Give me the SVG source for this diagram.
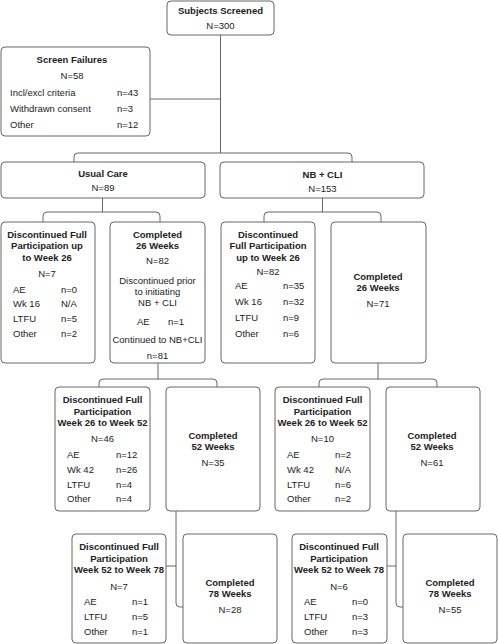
<svg xmlns="http://www.w3.org/2000/svg" width="498" height="644" viewBox="0 0 498 644">
<style>
.box{fill:#fff;stroke:#666;stroke-width:1}
.ln{fill:none;stroke:#666;stroke-width:1}
text{font-family:"Liberation Sans",Arial,sans-serif;font-size:9.5px;fill:#222}
.b{font-weight:bold;text-anchor:middle}
.c{text-anchor:middle}
</style>
<rect width="498" height="644" fill="#fff"/>
<g id="connectors">
<path class="ln" d="M220.5,35 V153 M150,99 H220.5"/>
<path class="ln" d="M74,162 V157 Q74,153 78,153 H348 Q352,153 352,157 V162"/>
<path class="ln" d="M102.5,198 V212 M43,222 V216 Q43,212 47,212 H156 Q160,212 160,216 V222"/>
<path class="ln" d="M322.5,198 V212 M264,222 V216 Q264,212 268,212 H377 Q381,212 381,216 V222"/>
<path class="ln" d="M158,363 V379 M99,387 V383 Q99,379 103,379 H213 Q217,379 217,383 V387"/>
<path class="ln" d="M378,363 V379 M319,387 V383 Q319,379 323,379 H433 Q437,379 437,383 V387"/>
<path class="ln" d="M176,511 V603 Q176,607 180,607 H183 M176,566 H166"/>
<path class="ln" d="M396,511 V603 Q396,607 400,607 H403 M396,566 H387"/>
</g>
<g id="screened">
<rect class="box" x="167" y="1" width="107" height="34" rx="4"/>
<text class="b" x="220.5" y="13.5">Subjects Screened</text>
<text class="c" x="220.5" y="28.5">N=300</text>
</g>
<g id="screen-failures">
<rect class="box" x="1" y="47" width="149" height="89" rx="4"/>
<text class="b" x="72" y="62.5">Screen Failures</text>
<text class="c" x="72" y="78.5">N=58</text>
<text x="10" y="95.5">Incl/excl criteria</text><text x="117" y="95.5">n=43</text>
<text x="10" y="111.5">Withdrawn consent</text><text x="117" y="111.5">n=3</text>
<text x="10" y="127.5">Other</text><text x="117" y="127.5">n=12</text>
</g>
<g id="usual-care">
<rect class="box" x="1" y="162" width="204" height="36" rx="4"/>
<text class="b" x="103" y="176.5">Usual Care</text>
<text class="c" x="103" y="190.5">N=89</text>
</g>
<g id="nb-cli">
<rect class="box" x="220" y="162" width="204" height="36" rx="4"/>
<text class="b" x="322.5" y="177.5">NB + CLI</text>
<text class="c" x="322.5" y="191.5">N=153</text>
</g>
<g id="uc-disc26">
<rect class="box" x="1" y="222" width="94" height="141" rx="4"/>
<text class="b" x="47" y="237.5">Discontinued Full</text>
<text class="b" x="47" y="249">Participation up</text>
<text class="b" x="47" y="260.5">to Week 26</text>
<text class="c" x="47" y="276.5">N=7</text>
<text x="13" y="292.5">AE</text><text x="61" y="292.5">n=0</text>
<text x="13" y="307">Wk 16</text><text x="61" y="307">N/A</text>
<text x="13" y="322">LTFU</text><text x="61" y="322">n=5</text>
<text x="13" y="337">Other</text><text x="61" y="337">n=2</text>
</g>
<g id="uc-comp26">
<rect class="box" x="110" y="222" width="95" height="141" rx="4"/>
<text class="b" x="157.5" y="237.5">Completed</text>
<text class="b" x="157.5" y="249">26 Weeks</text>
<text class="c" x="157.5" y="263.5">N=82</text>
<text class="c" x="157.5" y="283.5">Discontinued prior</text>
<text class="c" x="157.5" y="294.5">to initiating</text>
<text class="c" x="157.5" y="306">NB + CLI</text>
<text x="137" y="324.5">AE</text><text x="168" y="324.5">n=1</text>
<text class="c" x="157.5" y="342.5">Continued to NB+CLI</text>
<text class="c" x="157.5" y="358.5">n=81</text>
</g>
<g id="nb-disc26">
<rect class="box" x="221" y="222" width="94" height="141" rx="4"/>
<text class="b" x="268" y="237.5">Discontinued</text>
<text class="b" x="268" y="249">Full Participation</text>
<text class="b" x="268" y="260.5">up to Week 26</text>
<text class="c" x="268" y="275">N=82</text>
<text x="235" y="289">AE</text><text x="283" y="289">n=35</text>
<text x="235" y="305">Wk 16</text><text x="283" y="305">n=32</text>
<text x="235" y="321">LTFU</text><text x="283" y="321">n=9</text>
<text x="235" y="337">Other</text><text x="283" y="337">n=6</text>
</g>
<g id="nb-comp26">
<rect class="box" x="331" y="222" width="95" height="141" rx="4"/>
<text class="b" x="378" y="279.5">Completed</text>
<text class="b" x="378" y="291">26 Weeks</text>
<text class="c" x="378" y="307">N=71</text>
</g>
<g id="uc-disc52">
<rect class="box" x="55" y="387" width="95" height="124" rx="4"/>
<text class="b" x="102.5" y="403">Discontinued Full</text>
<text class="b" x="102.5" y="414.5">Participation</text>
<text class="b" x="102.5" y="426">Week 26 to Week 52</text>
<text class="c" x="102.5" y="442">N=46</text>
<text x="67" y="458">AE</text><text x="116" y="458">n=12</text>
<text x="67" y="472.5">Wk 42</text><text x="116" y="472.5">n=26</text>
<text x="67" y="487.5">LTFU</text><text x="116" y="487.5">n=4</text>
<text x="67" y="502">Other</text><text x="116" y="502">n=4</text>
</g>
<g id="uc-comp52">
<rect class="box" x="166" y="387" width="94" height="124" rx="4"/>
<text class="b" x="213" y="438.5">Completed</text>
<text class="b" x="213" y="450">52 Weeks</text>
<text class="c" x="213" y="466">N=35</text>
</g>
<g id="nb-disc52">
<rect class="box" x="275" y="387" width="95" height="124" rx="4"/>
<text class="b" x="322.5" y="403">Discontinued Full</text>
<text class="b" x="322.5" y="414.5">Participation</text>
<text class="b" x="322.5" y="426">Week 26 to Week 52</text>
<text class="c" x="322.5" y="442">N=10</text>
<text x="287" y="458">AE</text><text x="335" y="458">n=2</text>
<text x="287" y="472.5">Wk 42</text><text x="335" y="472.5">N/A</text>
<text x="287" y="487.5">LTFU</text><text x="335" y="487.5">n=6</text>
<text x="287" y="502">Other</text><text x="335" y="502">n=2</text>
</g>
<g id="nb-comp52">
<rect class="box" x="386" y="387" width="94" height="124" rx="4"/>
<text class="b" x="432" y="438.5">Completed</text>
<text class="b" x="432" y="450">52 Weeks</text>
<text class="c" x="432" y="466">N=61</text>
</g>
<g id="uc-disc78">
<rect class="box" x="72" y="534" width="94" height="109" rx="4"/>
<text class="b" x="119" y="550">Discontinued Full</text>
<text class="b" x="119" y="561.5">Participation</text>
<text class="b" x="119" y="573">Week 52 to Week 78</text>
<text class="c" x="119" y="589.5">N=7</text>
<text x="84" y="605">AE</text><text x="132" y="605">n=1</text>
<text x="84" y="619.5">LTFU</text><text x="132" y="619.5">n=5</text>
<text x="84" y="634.5">Other</text><text x="132" y="634.5">n=1</text>
</g>
<g id="uc-comp78">
<rect class="box" x="183" y="534" width="94" height="109" rx="4"/>
<text class="b" x="230" y="585.5">Completed</text>
<text class="b" x="230" y="597">78 Weeks</text>
<text class="c" x="230" y="613">N=28</text>
</g>
<g id="nb-disc78">
<rect class="box" x="292" y="534" width="95" height="109" rx="4"/>
<text class="b" x="339" y="550">Discontinued Full</text>
<text class="b" x="339" y="561.5">Participation</text>
<text class="b" x="339" y="573">Week 52 to Week 78</text>
<text class="c" x="339" y="589.5">N=6</text>
<text x="304" y="605">AE</text><text x="352" y="605">n=0</text>
<text x="304" y="619.5">LTFU</text><text x="352" y="619.5">n=3</text>
<text x="304" y="634.5">Other</text><text x="352" y="634.5">n=3</text>
</g>
<g id="nb-comp78">
<rect class="box" x="403" y="534" width="94" height="109" rx="4"/>
<text class="b" x="450" y="585.5">Completed</text>
<text class="b" x="450" y="597">78 Weeks</text>
<text class="c" x="450" y="613">N=55</text>
</g>
</svg>
